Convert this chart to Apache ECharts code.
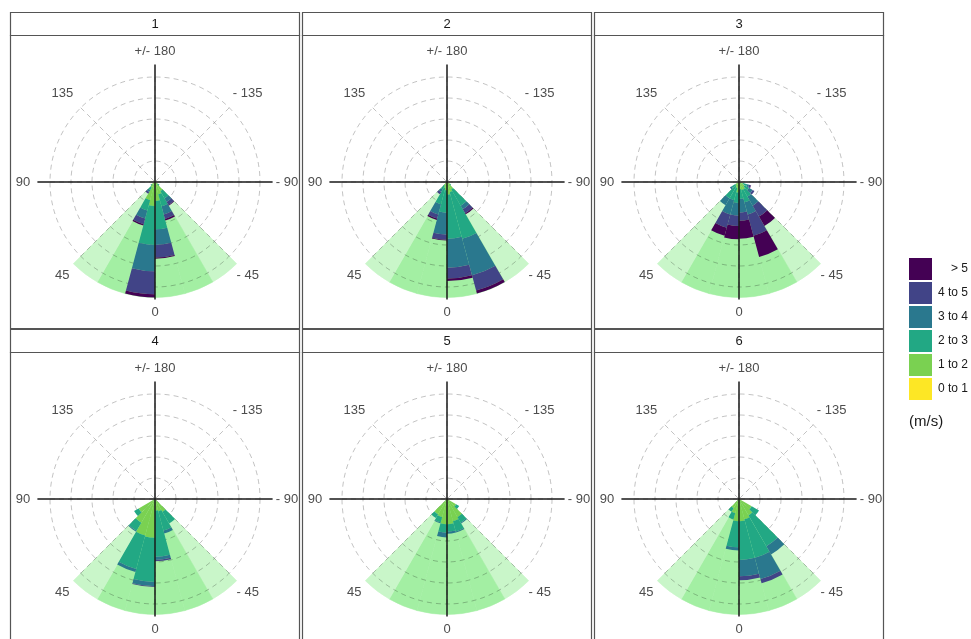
<!DOCTYPE html>
<html>
<head>
<meta charset="utf-8">
<script src="https://cdn.jsdelivr.net/npm/echarts@6/dist/echarts.min.js"></script>
<style>
  html, body { margin: 0; padding: 0; background: #ffffff; }
  #chart { width: 971px; height: 639px; }
</style>
</head>
<body>
<div id="chart"></div>
<script>
// ---- data -------------------------------------------------------------
const panelLabels = ['1', '2', '3', '4', '5', '6'];
const speedClasses = ['0 to 1', '1 to 2', '2 to 3', '3 to 4', '4 to 5', '> 5'];
const speedColors  = ['#FDE725', '#7AD151', '#22A884', '#2A788E', '#414487', '#440154'];

// direction bins (start of each 15 degree sector)
const binStarts = [-75, -60, -45, -30, -15, 0, 15, 30, 45];

// panel 1 : frequency per speed class and direction bin
const p1_01 = [0, 0.03, 0.05, 0.05, 0.08, 0.08, 0.05, 0.05, 0.03];
const p1_12 = [0, 0.12, 0.45, 0.55, 0.82, 1.07, 0.85, 0.25, 0.15];
const p1_23 = [0, 0.10, 0.40, 0.60, 1.35, 1.85, 0.50, 0.15, 0.07];
const p1_34 = [0, 0,    0.20, 0.40, 0.75, 1.25, 0.40, 0.10, 0];
const p1_45 = [0, 0,    0.17, 0.22, 0.60, 1.10, 0.28, 0.09, 0];
const p1_5  = [0, 0,    0.03, 0.08, 0.05, 0.15, 0.06, 0,    0];
// panel 2
const p2_01 = [0, 0.02, 0.05, 0.05, 0.10, 0.10, 0.05, 0.03, 0];
const p2_12 = [0, 0.15, 0.35, 0.45, 0.50, 0.30, 0.25, 0.17, 0];
const p2_23 = [0, 0.05, 0.90, 2.30, 2.10, 1.06, 0.80, 0.20, 0];
const p2_34 = [0, 0,    0.20, 1.80, 1.38, 1.04, 0.50, 0.15, 0];
const p2_45 = [0, 0,    0.22, 0.75, 0.52, 0.25, 0.20, 0.12, 0];
const p2_5  = [0, 0,    0.06, 0.15, 0.12, 0.03, 0.07, 0,    0];
// panel 3
const p3_01 = [0.02, 0.03, 0.05, 0.05, 0.08, 0.08, 0.05, 0.03, 0.02];
const p3_12 = [0.18, 0.27, 0.35, 0.35, 0.27, 0.42, 0.25, 0.22, 0.18];
const p3_23 = [0.20, 0.25, 0.40, 0.60, 0.45, 0.50, 0.60, 0.65, 0.20];
const p3_34 = [0.10, 0.20, 0.50, 0.60, 0.65, 0.60, 0.70, 0.38, 0.10];
const p3_45 = [0.08, 0.10, 0.60, 1.05, 0.40, 0.50, 0.65, 0,    0];
const p3_5  = [0.02, 0,    0.52, 1.05, 0.85, 0.63, 0.40, 0,    0];
// panel 4
const p4_01 = [0, 0, 0.03, 0.05, 0.05, 0.05, 0.05, 0.05, 0.03];
const p4_12 = [0, 0, 0.67, 0.55, 0.50, 1.80, 1.75, 1.25, 0.87];
const p4_23 = [0, 0, 0.65, 0.95, 2.20, 2.10, 1.65, 0.45, 0.25];
const p4_34 = [0, 0, 0,    0.15, 0.15, 0.20, 0.15, 0.05, 0];
const p4_45 = [0, 0, 0,    0,    0.07, 0.04, 0,    0,    0];
const p4_5  = [0, 0, 0,    0,    0,    0,    0,    0,    0];
// panel 5
const p5_01 = [0, 0.03, 0.05, 0.05, 0.05, 0.05, 0.05, 0.03, 0];
const p5_12 = [0, 0.47, 0.95, 1.05, 1.15, 1.15, 0.85, 0.82, 0];
const p5_23 = [0, 0.17, 0.30, 0.50, 0.35, 0.40, 0.25, 0.20, 0];
const p5_34 = [0, 0,    0.05, 0.05, 0.10, 0.23, 0.05, 0,    0];
const p5_45 = [0, 0,    0,    0,    0,    0,    0,    0,    0];
const p5_5  = [0, 0,    0,    0,    0,    0,    0,    0,    0];
// panel 6
const p6_01 = [0, 0.03, 0.05, 0.05, 0.05, 0.05, 0.05, 0.03, 0];
const p6_12 = [0, 0.67, 0.85, 0.95, 1.01, 1.01, 0.65, 0.47, 0];
const p6_23 = [0, 0.40, 1.70, 1.90, 1.84, 1.24, 0.30, 0.20, 0];
const p6_34 = [0, 0,    0.45, 1.05, 0.78, 0.15, 0,    0,    0];
const p6_45 = [0, 0,    0,    0.20, 0.19, 0,    0,    0,    0];
const p6_5  = [0, 0,    0,    0,    0,    0,    0,    0,    0];

const panelSeries = [
  [p1_01, p1_12, p1_23, p1_34, p1_45, p1_5],
  [p2_01, p2_12, p2_23, p2_34, p2_45, p2_5],
  [p3_01, p3_12, p3_23, p3_34, p3_45, p3_5],
  [p4_01, p4_12, p4_23, p4_34, p4_45, p4_5],
  [p5_01, p5_12, p5_23, p5_34, p5_45, p5_5],
  [p6_01, p6_12, p6_23, p6_34, p6_45, p6_5]
];

// shaded reference sector behind the roses
const shadeBins   = [-45, -30, -15, 0, 15, 30];
const shadeBand   = ['outer', 'inner', 'inner', 'inner', 'inner', 'outer'];
const shadeRadius = 5.5;
const shadeColors = { inner: '#a3efa3', outer: '#c9f6c9' };

// angle tick labels: vertical, horizontal and diagonal directions
const verticalTicks    = [0, 180];
const verticalLabels   = ['0', '+/- 180'];
const horizontalTicks  = [90, 270];
const horizontalLabels = ['90', '- 90'];
const diagonalTicks    = [45, 135, 225, 315];
const diagonalLabels   = ['45', '135', '- 135', '- 45'];

// ---- layout -----------------------------------------------------------
const FONT = "'Liberation Sans', Arial, Helvetica, sans-serif";
const STEP = 15, NBINS = 360 / STEP;
const dirCats = Array.from({ length: NBINS }, (_, i) => String(i * STEP));
const binIndex = b => (((b % 360) + 360) % 360) / STEP;

const PX_PER_UNIT = 21;
const R_MAX = 5.6;      // radial extent of the rose area
const R_GRID = 5;       // outermost dashed ring
const panelLeft = [10.5, 302.5, 594.5];
const panelW = 289;
const stripTop = [12.5, 329.5];
const stripH = 23;
const panelH = 293;
const GRID_LINE = { color: 'rgba(0,0,0,0.24)', width: 1, type: [5, 4] };
const LABEL_COLOR = '#4d4d4d';
const HIDDEN = {
  axisLine: { show: false }, axisTick: { show: false },
  axisLabel: { show: false }, splitLine: { show: false }
};

function panelCenter(k) {
  const col = k % 3, row = Math.floor(k / 3);
  return [panelLeft[col] + panelW / 2, stripTop[row] + stripH + panelH / 2];
}

function spread(values) {
  const out = new Array(NBINS).fill(0);
  binStarts.forEach((b, i) => { out[binIndex(b)] = values[i]; });
  return out;
}

// formatter showing only the given ticks, optionally inside a rich box
function tickLabeller(ticks, labels, box) {
  return v => {
    const i = ticks.indexOf(v);
    if (i < 0) return '';
    return box ? '{' + box + '|' + labels[i] + '}' : labels[i];
  };
}

// a label-only angle axis laid over the grid ring
function labelAxis(polarIndex, margin, formatter) {
  return {
    polarIndex, type: 'value', min: 0, max: 360, interval: 45, startAngle: -90, clockwise: true,
    z: 2,
    axisLine: { show: false }, axisTick: { show: false }, splitLine: { show: false },
    axisLabel: {
      margin, color: LABEL_COLOR, fontSize: 13, fontFamily: FONT, formatter,
      rich: {
        h: { width: 30, align: 'center', fontSize: 13, fontFamily: FONT, color: LABEL_COLOR },
        d: {
          width: 34, lineHeight: 30, padding: [5, 0, 0, 0], align: 'center',
          fontSize: 13, fontFamily: FONT, color: LABEL_COLOR
        }
      }
    }
  };
}

const polar = [], angleAxis = [], radiusAxis = [], series = [], graphic = [];

panelLabels.forEach((label, k) => {
  const c = panelCenter(k);
  const base = k * 5;
  const iA = base, iB = base + 1, iC = base + 2, iD = base + 3, iE = base + 4;

  // A: bars, B: dashed grid + vertical labels, C: solid crosshair,
  // D: horizontal labels, E: diagonal labels
  polar.push({ center: c, radius: R_MAX * PX_PER_UNIT });
  polar.push({ center: c, radius: R_GRID * PX_PER_UNIT });
  polar.push({ center: c, radius: R_MAX * PX_PER_UNIT });
  polar.push({ center: c, radius: R_GRID * PX_PER_UNIT });
  polar.push({ center: c, radius: R_GRID * PX_PER_UNIT });

  angleAxis.push(Object.assign({
    polarIndex: iA, type: 'category', data: dirCats, startAngle: -90, clockwise: true,
    boundaryGap: true, z: 3
  }, HIDDEN));
  radiusAxis.push(Object.assign({ polarIndex: iA, type: 'value', min: 0, max: R_MAX, z: 3 }, HIDDEN));

  const gridAngle = labelAxis(iB, 19, tickLabeller(verticalTicks, verticalLabels));
  gridAngle.splitLine = { show: true, lineStyle: GRID_LINE };
  angleAxis.push(gridAngle);
  radiusAxis.push({
    polarIndex: iB, type: 'value', min: 0, max: R_GRID, interval: 1, z: 2,
    axisLine: { show: false }, axisTick: { show: false }, axisLabel: { show: false },
    splitLine: { show: true, lineStyle: GRID_LINE }
  });

  angleAxis.push({
    polarIndex: iC, type: 'value', min: 0, max: 360, interval: 90, startAngle: -90, clockwise: true,
    z: 6,
    axisLine: { show: false }, axisTick: { show: false }, axisLabel: { show: false },
    splitLine: { show: true, lineStyle: { color: '#1a1a1a', width: 1.5 } }
  });
  radiusAxis.push(Object.assign({ polarIndex: iC, type: 'value', min: 0, max: 1 }, HIDDEN));

  angleAxis.push(labelAxis(iD, 12, tickLabeller(horizontalTicks, horizontalLabels, 'h')));
  radiusAxis.push(Object.assign({ polarIndex: iD, type: 'value', min: 0, max: R_GRID }, HIDDEN));

  angleAxis.push(labelAxis(iE, 2, tickLabeller(diagonalTicks, diagonalLabels, 'd')));
  radiusAxis.push(Object.assign({ polarIndex: iE, type: 'value', min: 0, max: R_GRID }, HIDDEN));

  // shaded sector
  const shade = new Array(NBINS).fill(0).map(() => ({ value: 0 }));
  shadeBins.forEach((b, i) => {
    const col = shadeColors[shadeBand[i]];
    shade[binIndex(b)] = {
      value: shadeRadius,
      itemStyle: { color: col, borderColor: col, borderWidth: 0.6 }
    };
  });
  series.push({
    type: 'bar', coordinateSystem: 'polar', polarIndex: iA, stack: 'shade' + k,
    data: shade, barCategoryGap: '0%', barGap: '-100%', z: 1, silent: true,
    itemStyle: { color: shadeColors.outer }
  });

  // stacked wind-speed sectors
  panelSeries[k].forEach((vals, j) => {
    series.push({
      name: speedClasses[j], type: 'bar', coordinateSystem: 'polar', polarIndex: iA,
      stack: 'speed' + k, data: spread(vals),
      barCategoryGap: '0%', barGap: '-100%', z: 4, silent: true,
      itemStyle: { color: speedColors[j] }
    });
  });

  // facet strip and panel frame
  const col = k % 3, row = Math.floor(k / 3);
  const x = panelLeft[col], y = stripTop[row];
  graphic.push({
    type: 'rect', shape: { x: x, y: y, width: panelW, height: stripH }, z: 10,
    style: { fill: '#ffffff', stroke: '#555555', lineWidth: 1.2 }
  });
  graphic.push({
    type: 'text', x: x + panelW / 2, y: y + stripH / 2, z: 11,
    style: { text: label, fill: '#1a1a1a', font: '13px ' + FONT, align: 'center', verticalAlign: 'middle' }
  });
  graphic.push({
    type: 'rect', shape: { x: x, y: y + stripH, width: panelW, height: panelH }, z: 10,
    style: { fill: 'none', stroke: '#555555', lineWidth: 1.2 }
  });
});

graphic.push({
  type: 'text', x: 909, y: 414, z: 11,
  style: { text: '(m/s)', fill: '#1a1a1a', font: '15px ' + FONT }
});

const chart = echarts.init(document.getElementById('chart'), null, { renderer: 'canvas' });
chart.setOption({
  animation: false,
  backgroundColor: '#ffffff',
  textStyle: { fontFamily: FONT },
  polar, angleAxis, radiusAxis, series, graphic,
  legend: {
    data: speedClasses.slice().reverse(),
    orient: 'vertical', left: 909, top: 258, padding: 0,
    itemWidth: 23, itemHeight: 22, itemGap: 2, icon: 'rect',
    selectedMode: false,
    formatter: n => '{r|' + n + '}',
    textStyle: {
      color: '#1a1a1a', fontSize: 12, fontFamily: FONT,
      rich: { r: { width: 31, align: 'right', fontSize: 12, fontFamily: FONT, color: '#1a1a1a' } }
    }
  }
});
</script>
</body>
</html>
